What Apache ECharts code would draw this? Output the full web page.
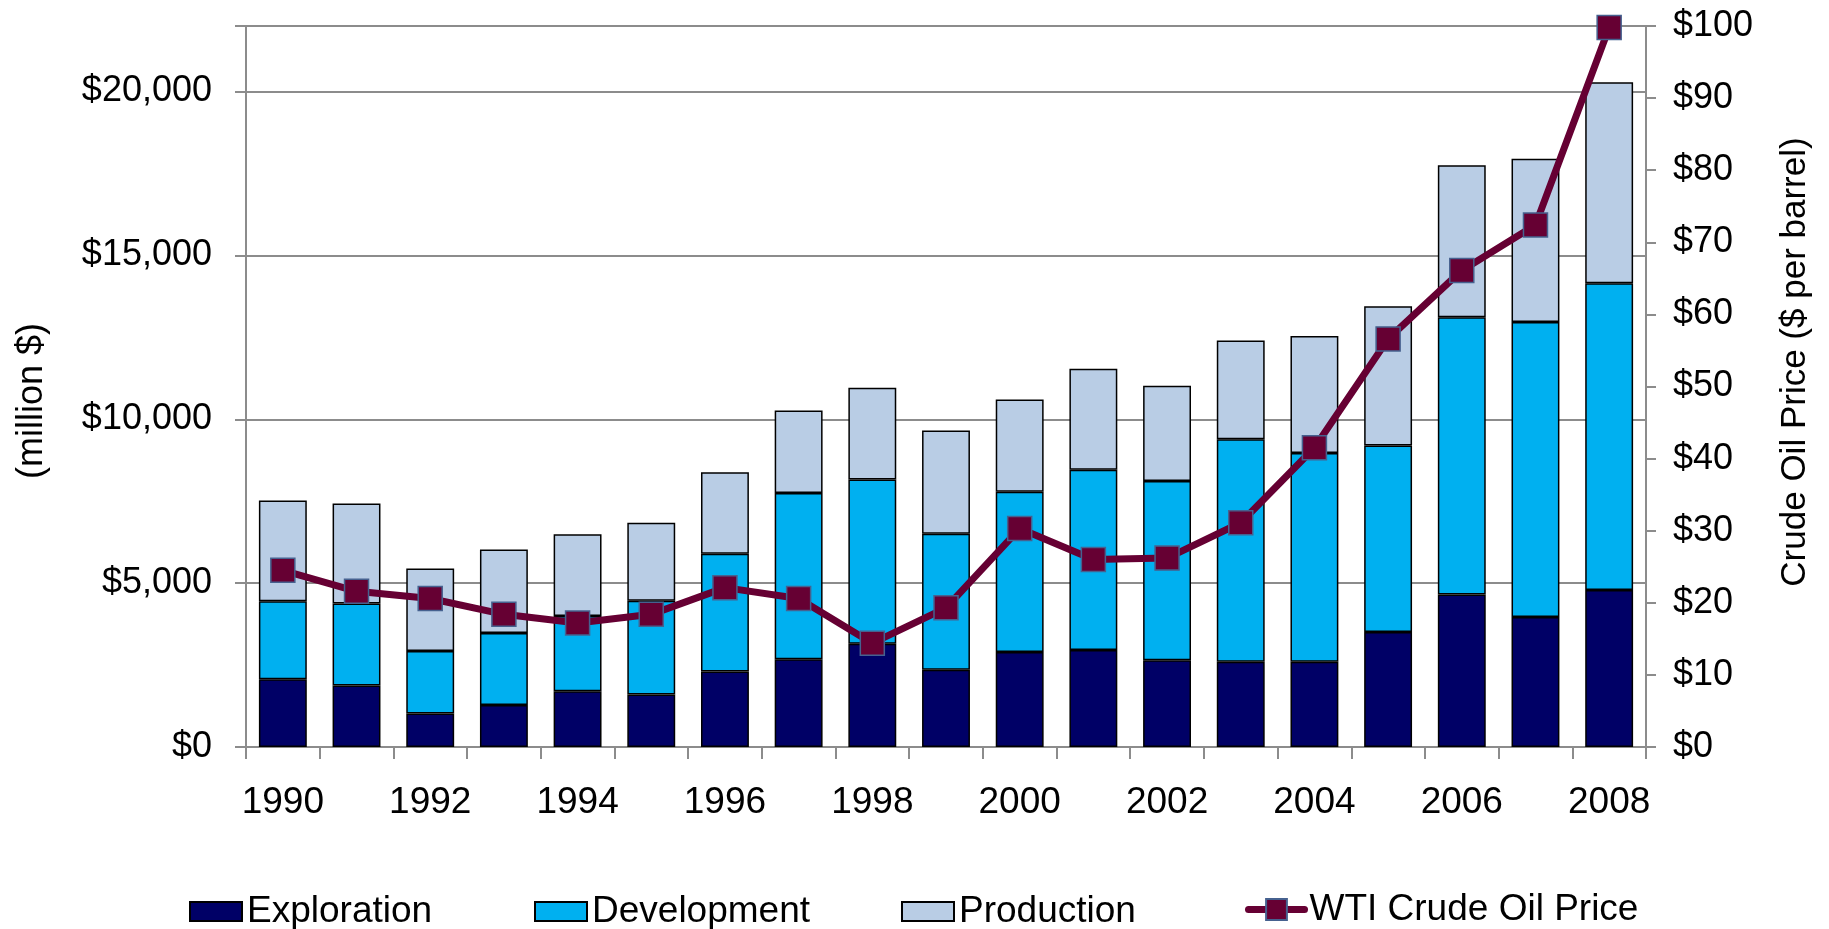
<!DOCTYPE html>
<html>
<head>
<meta charset="utf-8">
<script src="https://cdn.jsdelivr.net/npm/echarts@6/dist/echarts.min.js"></script>
<style>
html,body{margin:0;padding:0;background:#fff;}
#c{width:1829px;height:929px;}
</style>
</head>
<body>
<div id="c"></div>
<script>
const years = ['1990','1991','1992','1993','1994','1995','1996','1997','1998','1999','2000','2001','2002','2003','2004','2005','2006','2007','2008'];
const exploration = [2070,1880,1020,1280,1700,1600,2300,2680,3150,2360,2900,2960,2650,2600,2600,3510,4650,3970,4790];
const development = [2380,2500,1910,2200,2300,2860,3600,5070,5010,4150,4890,5500,5470,6790,6370,5690,8460,9000,9360];
const production  = [3070,3050,2520,2550,2490,2380,2480,2520,2800,3150,2810,3080,2900,3010,3570,4250,4640,4980,6130];
const wtiPrice    = [24.5,21.6,20.6,18.4,17.2,18.4,22.1,20.6,14.4,19.3,30.3,26.0,26.2,31.1,41.5,56.6,66.1,72.4,99.8];
const leftAxisTitle = '(million $)';
const rightAxisTitle = 'Crude Oil Price ($ per barrel)';

const FONT = '"Liberation Sans", Arial, sans-serif';
const FS = 36;
const gridColor = '#8c8c8c';
const chart = echarts.init(document.getElementById('c'));

const legendBase = {
  top: 893, itemHeight: 19, itemWidth: 52, icon: 'rect',
  textStyle: {fontFamily: FONT, fontSize: 37, color: '#000'},
  padding: 0
};

chart.setOption({
  backgroundColor: '#fff',
  animation: false,
  textStyle: {fontFamily: FONT},
  grid: {left: 246, right: 183, top: 26, bottom: 182, containLabel: false},
  legend: [
    Object.assign({}, legendBase, {left: 189, data: ['Exploration']}),
    Object.assign({}, legendBase, {left: 534, data: ['Development']}),
    Object.assign({}, legendBase, {left: 901, data: ['Production']}),
    {top: 891, left: 1245, itemWidth: 56, itemHeight: 26, padding: 0,
      textStyle: {fontFamily: FONT, fontSize: 37, color: '#000'},
      lineStyle: {width: 7, cap: 'round', color: '#660033'},
      data: ['WTI Crude Oil Price']}
  ],
  graphic: [
    {type: 'text', x: 32, y: 401, rotation: Math.PI / 2,
     style: {text: leftAxisTitle, font: FS + 'px ' + FONT, fill: '#000', textAlign: 'center', textVerticalAlign: 'middle'}},
    {type: 'text', x: 1795, y: 362, rotation: Math.PI / 2,
     style: {text: rightAxisTitle, font: '35px ' + FONT, fill: '#000', textAlign: 'center', textVerticalAlign: 'middle'}}
  ],
  xAxis: {
    type: 'category',
    data: years,
    boundaryGap: true,
    axisLine: {lineStyle: {color: gridColor, width: 2}},
    axisTick: {show: true, interval: 0, length: 12, lineStyle: {color: gridColor, width: 2}},
    axisLabel: {interval: 1, margin: 37, fontFamily: FONT, fontSize: 37, color: '#000'}
  },
  yAxis: [
    {
      type: 'value', min: 0, max: 22000, interval: 5000,
      axisLine: {show: true, lineStyle: {color: gridColor, width: 2}},
      axisTick: {show: true, length: 11, lineStyle: {color: gridColor, width: 2}},
      splitLine: {show: true, lineStyle: {color: gridColor, width: 2}},
      axisLabel: {
        margin: 34, fontFamily: FONT, fontSize: FS, color: '#000',
        formatter: v => v > 20000 ? '' : '$' + v.toLocaleString('en-US')
      }
    },
    {
      type: 'value', min: 0, max: 100, interval: 10, position: 'right',
      axisLine: {show: true, lineStyle: {color: gridColor, width: 2}},
      axisTick: {show: true, length: 10, lineStyle: {color: gridColor, width: 2}},
      splitLine: {show: false},
      axisLabel: {margin: 27, fontFamily: FONT, fontSize: FS, color: '#000', formatter: v => '$' + v}
    }
  ],
  series: [
    {name: 'Exploration', type: 'bar', stack: 'total', barWidth: '65%', data: exploration,
     itemStyle: {color: '#000066', borderColor: '#000', borderWidth: 1.5}},
    {name: 'Development', type: 'bar', stack: 'total', barWidth: '65%', data: development,
     itemStyle: {color: '#00B0F0', borderColor: '#000', borderWidth: 1.5}},
    {name: 'Production', type: 'bar', stack: 'total', barWidth: '65%', data: production,
     itemStyle: {color: '#B9CDE5', borderColor: '#000', borderWidth: 1.5}},
    {name: 'WTI Crude Oil Price', type: 'line', yAxisIndex: 1, data: wtiPrice,
     symbol: 'rect', symbolSize: 24, z: 5,
     lineStyle: {color: '#660033', width: 7, cap: 'round', join: 'round'},
     itemStyle: {color: '#660033', borderColor: '#46618F', borderWidth: 1.5}}
  ]
});
</script>
</body>
</html>
